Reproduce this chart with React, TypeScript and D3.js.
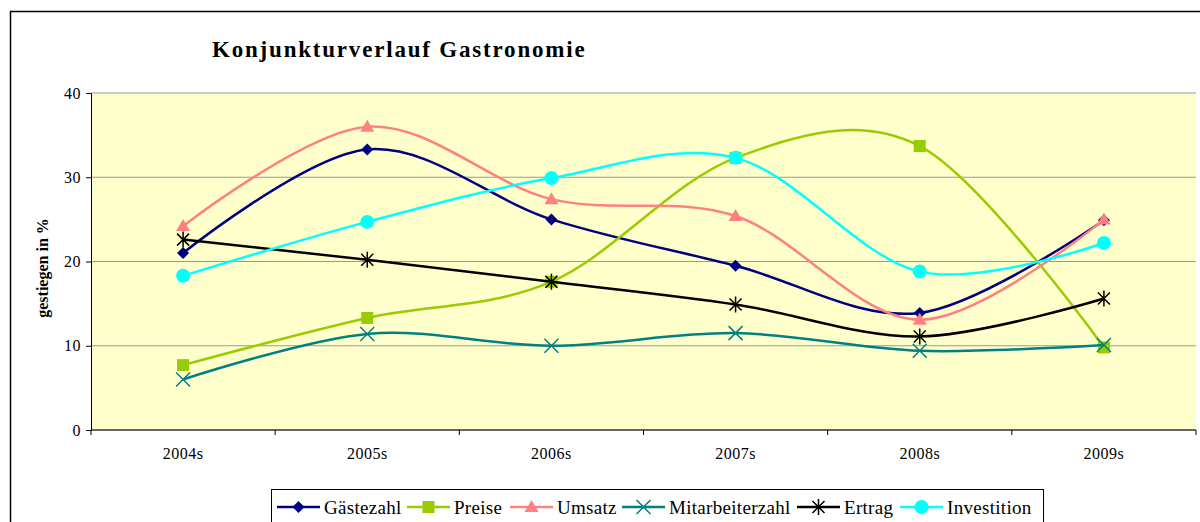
import * as d3 from "d3";
import { useRef, useEffect } from "react";

const width = 1200;
const height = 522;
const marginTop = 93;
const marginLeft = 91;
const plotRight = 1196;
const plotBottom = 430;

const years = ["2004s", "2005s", "2006s", "2007s", "2008s", "2009s"];
const gaestezahl = [21.0, 33.3, 25.0, 19.5, 13.9, 24.9];
const preise = [7.7, 13.3, 17.6, 32.3, 33.7, 9.8];
const umsatz = [24.2, 36.0, 27.4, 25.4, 13.1, 25.0];
const mitarbeiterzahl = [6.0, 11.4, 10.0, 11.5, 9.4, 10.1];
const ertrag = [22.6, 20.2, 17.6, 14.9, 11.1, 15.6];
const investition = [18.3, 24.7, 29.9, 32.3, 18.8, 22.2];
const yTicks = [0, 10, 20, 30, 40];

type Marker = "diamond" | "square" | "triangle" | "x" | "star" | "circle";

const series: { name: string; values: number[]; color: string; marker: Marker }[] = [
  { name: "Gästezahl", values: gaestezahl, color: "#000080", marker: "diamond" },
  { name: "Preise", values: preise, color: "#99CC00", marker: "square" },
  { name: "Umsatz", values: umsatz, color: "#FF8080", marker: "triangle" },
  { name: "Mitarbeiterzahl", values: mitarbeiterzahl, color: "#008080", marker: "x" },
  { name: "Ertrag", values: ertrag, color: "#000000", marker: "star" },
  { name: "Investition", values: investition, color: "#00FFFF", marker: "circle" },
];

const legendX = [277, 407, 510, 622, 797, 900];

const font = "Liberation Serif, Times New Roman, DejaVu Serif, serif";

const MarkerShape = ({ type, cx, cy, color }: { type: Marker; cx: number; cy: number; color: string }) => {
  if (type === "diamond")
    return <path d={`M${cx},${cy - 6}L${cx + 6},${cy}L${cx},${cy + 6}L${cx - 6},${cy}Z`} fill={color} />;
  if (type === "square") return <rect x={cx - 6} y={cy - 6} width={12} height={12} fill={color} />;
  if (type === "triangle")
    return <path d={`M${cx},${cy - 7}L${cx + 7},${cy + 5}L${cx - 7},${cy + 5}Z`} fill={color} />;
  if (type === "circle") return <circle cx={cx} cy={cy} r={7} fill={color} />;
  if (type === "x")
    return (
      <path
        d={`M${cx - 7},${cy - 7}L${cx + 7},${cy + 7}M${cx - 7},${cy + 7}L${cx + 7},${cy - 7}`}
        stroke={color}
        strokeWidth={1.5}
      />
    );
  return (
    <path
      d={`M${cx - 6},${cy - 6}L${cx + 6},${cy + 6}M${cx - 6},${cy + 6}L${cx + 6},${cy - 6}M${cx},${cy - 8}L${cx},${cy + 8}`}
      stroke={color}
      strokeWidth={1.5}
    />
  );
};

const App = () => {
  const gy = useRef<SVGGElement>(null);

  const x = d3.scaleBand().domain(years).range([marginLeft, plotRight]);
  const y = d3.scaleLinear().domain([0, 40]).range([plotBottom, marginTop]);

  useEffect(() => {
    if (!gy.current) return;
    const g = d3.select(gy.current);
    g.call(d3.axisLeft(y).tickValues(yTicks).tickSize(5).tickPadding(5))
      .call((s) => s.select(".domain").attr("stroke", "#000"))
      .call((s) =>
        s
          .selectAll("text")
          .style("font-family", font)
          .style("font-size", "16px")
          .style("letter-spacing", "0.5px")
          .attr("fill", "#000")
      );
    return () => {
      g.selectAll("*").remove();
    };
  }, [y]);

  const line = d3
    .line<number>()
    .x((_, i) => (x(years[i]) as number) + x.bandwidth() / 2)
    .y((d) => y(d))
    .curve(d3.curveCatmullRom.alpha(0));

  const boundaries = years.map((c) => x(c) as number).concat([plotRight]);

  return (
    <svg
      width={width}
      height={height}
      viewBox={`0 0 ${width} ${height}`}
      style={{ position: "absolute", left: 0, top: 0, background: "#fff", fontFamily: font }}
    >
      <path d={`M10.5,${height}L10.5,11.5L${width},11.5`} fill="none" stroke="#000" strokeWidth={1.5} />
      <text
        x={212}
        y={57}
        style={{ fontFamily: font, letterSpacing: "1.8px" }}
        fontWeight="bold"
        fontSize={23}
        fill="#000"
      >
        Konjunkturverlauf Gastronomie
      </text>

      <rect x={marginLeft} y={marginTop} width={plotRight - marginLeft} height={plotBottom - marginTop} fill="#FFFFCC" />
      {yTicks.map((t) => (
        <line key={t} x1={marginLeft} x2={plotRight} y1={y(t)} y2={y(t)} stroke="#999" strokeWidth={1} />
      ))}

      <line x1={marginLeft} x2={plotRight} y1={plotBottom} y2={plotBottom} stroke="#000" />
      {boundaries.map((b, i) => (
        <line key={i} x1={b} x2={b} y1={plotBottom} y2={plotBottom + 5} stroke="#000" />
      ))}
      {years.map((c) => (
        <text
          key={c}
          x={(x(c) as number) + x.bandwidth() / 2}
          y={459}
          textAnchor="middle"
          style={{ fontFamily: font, letterSpacing: "0.5px" }}
          fontSize={16}
          fill="#000"
        >
          {c}
        </text>
      ))}

      <g ref={gy} transform={`translate(${marginLeft}, 0)`} />

      <text
        transform={`translate(48, 268) rotate(-90)`}
        textAnchor="middle"
        style={{ fontFamily: font }}
        fontWeight="bold"
        fontSize={16}
        fill="#000"
      >
        gestiegen in %
      </text>

      {series.map((s) => (
        <g key={s.name}>
          <path d={line(s.values) as string} fill="none" stroke={s.color} strokeWidth={2.5} />
          {s.values.map((v, i) => (
            <MarkerShape
              key={i}
              type={s.marker}
              cx={(x(years[i]) as number) + x.bandwidth() / 2}
              cy={y(v)}
              color={s.color}
            />
          ))}
        </g>
      ))}

      <rect x={271.5} y={489.5} width={772} height={40} fill="#fff" stroke="#000" />
      {series.map((s, i) => (
        <g key={s.name}>
          <line x1={legendX[i]} x2={legendX[i] + 43} y1={507} y2={507} stroke={s.color} strokeWidth={2.5} />
          <MarkerShape type={s.marker} cx={legendX[i] + 21.5} cy={507} color={s.color} />
          <text
            x={legendX[i] + 47}
            y={514}
            style={{ fontFamily: font, letterSpacing: "0.3px" }}
            fontSize={19}
            fill="#000"
          >
            {s.name}
          </text>
        </g>
      ))}
    </svg>
  );
};

export default App;
